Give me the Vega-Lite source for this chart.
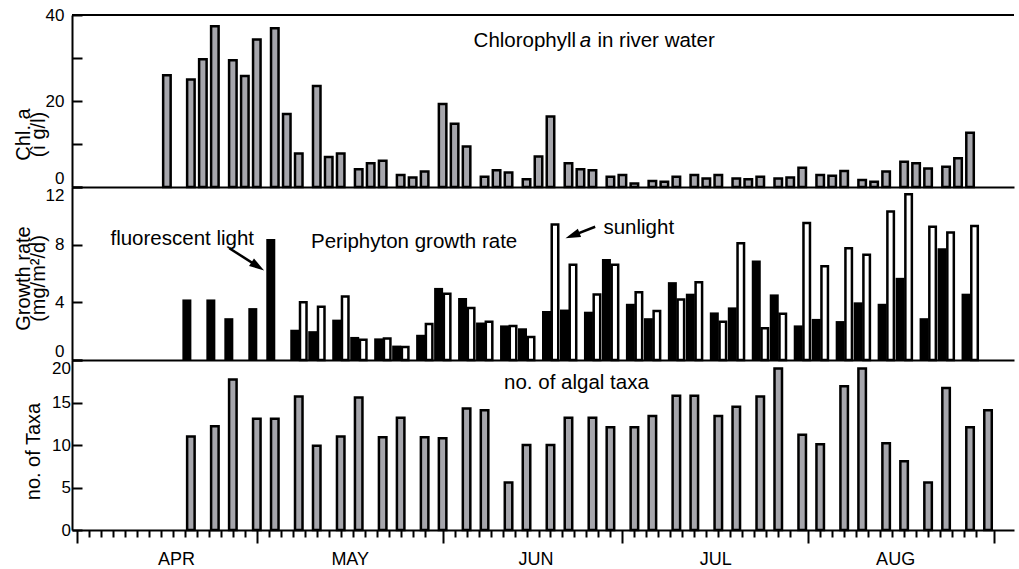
{
  "$schema": "https://vega.github.io/schema/vega-lite/v6.json",
  "padding": {"left": 13, "top": 6, "right": 0, "bottom": 0},
  "spacing": 0,
  "bounds": "flush",
  "config": {
    "view": {"stroke": null},
    "font": "Liberation Sans",
    "axis": {
      "domainColor": "black", "domainWidth": 2,
      "tickColor": "black", "tickWidth": 2,
      "labelColor": "black", "titleColor": "black",
      "labelFont": "Liberation Sans", "titleFont": "Liberation Sans",
      "labelFontSize": 17, "titleFontSize": 20, "titleFontWeight": "normal",
      "grid": false, "labelOverlap": false, "labelBound": false, "labelFlush": false
    },
    "text": {"font": "Liberation Sans", "fontSize": 20.5, "align": "left", "baseline": "alphabetic", "color": "black"}
  },
  "datasets": {
    "chl": [
      {"date": "1998-04-16", "chl": 26.0}, {"date": "1998-04-20", "chl": 25.0}, {"date": "1998-04-22", "chl": 29.7},
      {"date": "1998-04-24", "chl": 37.4}, {"date": "1998-04-27", "chl": 29.5}, {"date": "1998-04-29", "chl": 25.8},
      {"date": "1998-05-01", "chl": 34.3}, {"date": "1998-05-04", "chl": 36.9}, {"date": "1998-05-06", "chl": 17.0},
      {"date": "1998-05-08", "chl": 7.8}, {"date": "1998-05-11", "chl": 23.5}, {"date": "1998-05-13", "chl": 7.0},
      {"date": "1998-05-15", "chl": 7.8}, {"date": "1998-05-18", "chl": 4.1}, {"date": "1998-05-20", "chl": 5.5},
      {"date": "1998-05-22", "chl": 6.1}, {"date": "1998-05-25", "chl": 2.8}, {"date": "1998-05-27", "chl": 2.2},
      {"date": "1998-05-29", "chl": 3.6}, {"date": "1998-06-01", "chl": 19.3}, {"date": "1998-06-03", "chl": 14.7},
      {"date": "1998-06-05", "chl": 9.4}, {"date": "1998-06-08", "chl": 2.4}, {"date": "1998-06-10", "chl": 3.9},
      {"date": "1998-06-12", "chl": 3.4}, {"date": "1998-06-15", "chl": 1.8}, {"date": "1998-06-17", "chl": 7.1},
      {"date": "1998-06-19", "chl": 16.4}, {"date": "1998-06-22", "chl": 5.5}, {"date": "1998-06-24", "chl": 4.1},
      {"date": "1998-06-26", "chl": 3.9}, {"date": "1998-06-29", "chl": 2.4}, {"date": "1998-07-01", "chl": 2.8},
      {"date": "1998-07-03", "chl": 0.8}, {"date": "1998-07-06", "chl": 1.4}, {"date": "1998-07-08", "chl": 1.2},
      {"date": "1998-07-10", "chl": 2.4}, {"date": "1998-07-13", "chl": 2.8}, {"date": "1998-07-15", "chl": 2.0},
      {"date": "1998-07-17", "chl": 2.8}, {"date": "1998-07-20", "chl": 2.0}, {"date": "1998-07-22", "chl": 1.8},
      {"date": "1998-07-24", "chl": 2.4}, {"date": "1998-07-27", "chl": 2.0}, {"date": "1998-07-29", "chl": 2.2},
      {"date": "1998-07-31", "chl": 4.5}, {"date": "1998-08-03", "chl": 2.8}, {"date": "1998-08-05", "chl": 2.6},
      {"date": "1998-08-07", "chl": 3.7}, {"date": "1998-08-10", "chl": 1.6}, {"date": "1998-08-12", "chl": 1.2},
      {"date": "1998-08-14", "chl": 3.6}, {"date": "1998-08-17", "chl": 5.9}, {"date": "1998-08-19", "chl": 5.5},
      {"date": "1998-08-21", "chl": 4.3}, {"date": "1998-08-24", "chl": 4.7}, {"date": "1998-08-26", "chl": 6.7},
      {"date": "1998-08-28", "chl": 12.6}
    ],
    "growth": [
      {"date": "1998-04-20", "light": "fluorescent", "rate": 4.2},
      {"date": "1998-04-24", "light": "fluorescent", "rate": 4.2},
      {"date": "1998-04-27", "light": "fluorescent", "rate": 2.9},
      {"date": "1998-05-01", "light": "fluorescent", "rate": 3.6},
      {"date": "1998-05-04", "light": "fluorescent", "rate": 8.4},
      {"date": "1998-05-08", "light": "fluorescent", "rate": 2.1}, {"date": "1998-05-08", "light": "sunlight", "rate": 4.0},
      {"date": "1998-05-11", "light": "fluorescent", "rate": 2.0}, {"date": "1998-05-11", "light": "sunlight", "rate": 3.7},
      {"date": "1998-05-15", "light": "fluorescent", "rate": 2.8}, {"date": "1998-05-15", "light": "sunlight", "rate": 4.4},
      {"date": "1998-05-18", "light": "fluorescent", "rate": 1.6}, {"date": "1998-05-18", "light": "sunlight", "rate": 1.4},
      {"date": "1998-05-22", "light": "fluorescent", "rate": 1.5}, {"date": "1998-05-22", "light": "sunlight", "rate": 1.5},
      {"date": "1998-05-25", "light": "fluorescent", "rate": 1.0}, {"date": "1998-05-25", "light": "sunlight", "rate": 0.9},
      {"date": "1998-05-29", "light": "fluorescent", "rate": 1.75}, {"date": "1998-05-29", "light": "sunlight", "rate": 2.5},
      {"date": "1998-06-01", "light": "fluorescent", "rate": 5.0}, {"date": "1998-06-01", "light": "sunlight", "rate": 4.6},
      {"date": "1998-06-05", "light": "fluorescent", "rate": 4.3}, {"date": "1998-06-05", "light": "sunlight", "rate": 3.6},
      {"date": "1998-06-08", "light": "fluorescent", "rate": 2.6}, {"date": "1998-06-08", "light": "sunlight", "rate": 2.65},
      {"date": "1998-06-12", "light": "fluorescent", "rate": 2.4}, {"date": "1998-06-12", "light": "sunlight", "rate": 2.35},
      {"date": "1998-06-15", "light": "fluorescent", "rate": 2.2}, {"date": "1998-06-15", "light": "sunlight", "rate": 1.6},
      {"date": "1998-06-19", "light": "fluorescent", "rate": 3.4}, {"date": "1998-06-19", "light": "sunlight", "rate": 9.4},
      {"date": "1998-06-22", "light": "fluorescent", "rate": 3.5}, {"date": "1998-06-22", "light": "sunlight", "rate": 6.6},
      {"date": "1998-06-26", "light": "fluorescent", "rate": 3.35}, {"date": "1998-06-26", "light": "sunlight", "rate": 4.55},
      {"date": "1998-06-29", "light": "fluorescent", "rate": 7.0}, {"date": "1998-06-29", "light": "sunlight", "rate": 6.6},
      {"date": "1998-07-03", "light": "fluorescent", "rate": 3.9}, {"date": "1998-07-03", "light": "sunlight", "rate": 4.7},
      {"date": "1998-07-06", "light": "fluorescent", "rate": 2.9}, {"date": "1998-07-06", "light": "sunlight", "rate": 3.4},
      {"date": "1998-07-10", "light": "fluorescent", "rate": 5.4}, {"date": "1998-07-10", "light": "sunlight", "rate": 4.2},
      {"date": "1998-07-13", "light": "fluorescent", "rate": 4.6}, {"date": "1998-07-13", "light": "sunlight", "rate": 5.4},
      {"date": "1998-07-17", "light": "fluorescent", "rate": 3.3}, {"date": "1998-07-17", "light": "sunlight", "rate": 2.65},
      {"date": "1998-07-20", "light": "fluorescent", "rate": 3.65}, {"date": "1998-07-20", "light": "sunlight", "rate": 8.1},
      {"date": "1998-07-24", "light": "fluorescent", "rate": 6.9}, {"date": "1998-07-24", "light": "sunlight", "rate": 2.2},
      {"date": "1998-07-27", "light": "fluorescent", "rate": 4.55}, {"date": "1998-07-27", "light": "sunlight", "rate": 3.2},
      {"date": "1998-07-31", "light": "fluorescent", "rate": 2.4}, {"date": "1998-07-31", "light": "sunlight", "rate": 9.5},
      {"date": "1998-08-03", "light": "fluorescent", "rate": 2.85}, {"date": "1998-08-03", "light": "sunlight", "rate": 6.5},
      {"date": "1998-08-07", "light": "fluorescent", "rate": 2.7}, {"date": "1998-08-07", "light": "sunlight", "rate": 7.75},
      {"date": "1998-08-10", "light": "fluorescent", "rate": 4.0}, {"date": "1998-08-10", "light": "sunlight", "rate": 7.3},
      {"date": "1998-08-14", "light": "fluorescent", "rate": 3.9}, {"date": "1998-08-14", "light": "sunlight", "rate": 10.3},
      {"date": "1998-08-17", "light": "fluorescent", "rate": 5.7}, {"date": "1998-08-17", "light": "sunlight", "rate": 11.5},
      {"date": "1998-08-21", "light": "fluorescent", "rate": 2.9}, {"date": "1998-08-21", "light": "sunlight", "rate": 9.25},
      {"date": "1998-08-24", "light": "fluorescent", "rate": 7.75}, {"date": "1998-08-24", "light": "sunlight", "rate": 8.85},
      {"date": "1998-08-28", "light": "fluorescent", "rate": 4.6}, {"date": "1998-08-28", "light": "sunlight", "rate": 9.3}
    ],
    "taxa": [
      {"date": "1998-04-20", "taxa": 11.0}, {"date": "1998-04-24", "taxa": 12.2}, {"date": "1998-04-27", "taxa": 17.7},
      {"date": "1998-05-01", "taxa": 13.1}, {"date": "1998-05-04", "taxa": 13.1}, {"date": "1998-05-08", "taxa": 15.7},
      {"date": "1998-05-11", "taxa": 9.9}, {"date": "1998-05-15", "taxa": 11.0}, {"date": "1998-05-18", "taxa": 15.6},
      {"date": "1998-05-22", "taxa": 10.9}, {"date": "1998-05-25", "taxa": 13.2}, {"date": "1998-05-29", "taxa": 10.9},
      {"date": "1998-06-01", "taxa": 10.8}, {"date": "1998-06-05", "taxa": 14.3}, {"date": "1998-06-08", "taxa": 14.1},
      {"date": "1998-06-12", "taxa": 5.6}, {"date": "1998-06-15", "taxa": 10.0}, {"date": "1998-06-19", "taxa": 10.0},
      {"date": "1998-06-22", "taxa": 13.2}, {"date": "1998-06-26", "taxa": 13.2}, {"date": "1998-06-29", "taxa": 12.1},
      {"date": "1998-07-03", "taxa": 12.1}, {"date": "1998-07-06", "taxa": 13.4}, {"date": "1998-07-10", "taxa": 15.8},
      {"date": "1998-07-13", "taxa": 15.8}, {"date": "1998-07-17", "taxa": 13.4}, {"date": "1998-07-20", "taxa": 14.5},
      {"date": "1998-07-24", "taxa": 15.7}, {"date": "1998-07-27", "taxa": 19.0}, {"date": "1998-07-31", "taxa": 11.2},
      {"date": "1998-08-03", "taxa": 10.1}, {"date": "1998-08-07", "taxa": 16.9}, {"date": "1998-08-10", "taxa": 19.0},
      {"date": "1998-08-14", "taxa": 10.2}, {"date": "1998-08-17", "taxa": 8.1}, {"date": "1998-08-21", "taxa": 5.6},
      {"date": "1998-08-24", "taxa": 16.7}, {"date": "1998-08-28", "taxa": 12.1}, {"date": "1998-08-31", "taxa": 14.1}
    ],
    "chlText": [
      {"date": "1998-06-06T04:00:00Z", "value": 32.5, "text": "Chlorophyll"},
      {"date": "1998-06-23T21:00:00Z", "value": 32.5, "text": "a"},
      {"date": "1998-06-26T20:00:00Z", "value": 32.5, "text": "in river water"}
    ],
    "growthText": [
      {"date": "1998-04-06T14:00:00Z", "value": 7.97, "text": "fluorescent light"},
      {"date": "1998-05-10T01:00:00Z", "value": 7.8, "text": "Periphyton growth rate"},
      {"date": "1998-06-27T20:00:00Z", "value": 8.74, "text": "sunlight"}
    ],
    "taxaText": [
      {"date": "1998-06-11T06:00:00Z", "value": 16.55, "text": "no. of algal taxa"}
    ]
  },
  "vconcat": [
    {
      "width": 942,
      "height": 172,
      "layer": [
        {
          "data": {"name": "chl"},
          "mark": {"type": "bar", "width": 7.5, "fill": "#a6a6ac", "stroke": "black", "strokeWidth": 2.5},
          "encoding": {
            "x": {"field": "date", "type": "temporal",
                  "scale": {"type": "utc", "domain": [{"year": 1998, "month": 4, "date": 1, "utc": true}, {"year": 1998, "month": 9, "date": 3, "hours": 12, "utc": true}]},
                  "axis": {"orient": "bottom", "ticks": false, "labels": false, "title": null, "domain": true}},
            "y": {"field": "chl", "type": "quantitative", "scale": {"domain": [0, 40], "nice": false},
                  "axis": {"values": [0, 10, 20, 30, 40], "format": "d", "labelExpr": "datum.value % 20 == 0 ? datum.label : ''",
                           "labelBaseline": {"condition": {"test": "datum.value == 0", "value": "bottom"}, "value": "middle"},
                           "tickSize": -10, "labelPadding": 18,
                           "title": ["Chl. a", "(ì g/l)"], "titleX": -43, "titleY": 119, "titleAngle": 270,
                           "titleAlign": "center", "titleBaseline": "alphabetic", "titleLineHeight": 15}}
          }
        },
        {
          "data": {"values": [{}]},
          "mark": {"type": "rule", "color": "black", "strokeWidth": 2},
          "encoding": {"y": {"datum": 40, "type": "quantitative", "scale": {"domain": [0, 40], "nice": false}}}
        },
        {
          "data": {"name": "chlText"},
          "transform": [{"filter": "datum.text != 'a'"}],
          "mark": {"type": "text"},
          "encoding": {
            "x": {"field": "date", "type": "temporal"},
            "y": {"field": "value", "type": "quantitative"},
            "text": {"field": "text"}
          }
        },
        {
          "data": {"name": "chlText"},
          "transform": [{"filter": "datum.text == 'a'"}],
          "mark": {"type": "text", "fontStyle": "italic"},
          "encoding": {
            "x": {"field": "date", "type": "temporal"},
            "y": {"field": "value", "type": "quantitative"},
            "text": {"field": "text"}
          }
        }
      ]
    },
    {
      "width": 942,
      "height": 173,
      "layer": [
        {
          "data": {"name": "growth"},
          "transform": [{"filter": "datum.light == 'fluorescent'"}],
          "mark": {"type": "bar", "width": 9, "xOffset": -4, "color": "black"},
          "encoding": {
            "x": {"field": "date", "type": "temporal",
                  "scale": {"type": "utc", "domain": [{"year": 1998, "month": 4, "date": 1, "utc": true}, {"year": 1998, "month": 9, "date": 3, "hours": 12, "utc": true}]},
                  "axis": {"orient": "bottom", "ticks": false, "labels": false, "title": null, "domain": true}},
            "y": {"field": "rate", "type": "quantitative", "scale": {"domain": [0, 12], "nice": false},
                  "axis": {"values": [0, 2, 4, 6, 8, 10, 12], "format": "d", "labelExpr": "datum.value % 4 == 0 ? datum.label : ''",
                           "labelBaseline": {"condition": [{"test": "datum.value == 12", "value": "top"}, {"test": "datum.value == 0", "value": "bottom"}], "value": "middle"},
                           "tickSize": -10, "labelPadding": 18,
                           "title": ["Growth rate", "(mg/m²/d)"], "titleX": -43, "titleY": 91, "titleAngle": 270,
                           "titleAlign": "center", "titleBaseline": "alphabetic", "titleLineHeight": 15}}
          }
        },
        {
          "data": {"name": "growth"},
          "transform": [{"filter": "datum.light == 'sunlight'"}],
          "mark": {"type": "bar", "width": 6.5, "xOffset": 4.5, "fill": "white", "stroke": "black", "strokeWidth": 2.5},
          "encoding": {
            "x": {"field": "date", "type": "temporal"},
            "y": {"field": "rate", "type": "quantitative"}
          }
        },
        {
          "data": {"name": "growthText"},
          "mark": {"type": "text"},
          "encoding": {
            "x": {"field": "date", "type": "temporal"},
            "y": {"field": "value", "type": "quantitative"},
            "text": {"field": "text"}
          }
        },
        {
          "data": {
            "values": [
              {"light": "fluorescent", "date": "1998-04-26T10:00:00Z", "value": 7.75, "tipDate": "1998-05-01T04:00:00Z", "tipValue": 6.5},
              {"light": "sunlight", "date": "1998-06-26T11:00:00Z", "value": 9.24, "tipDate": "1998-06-22T16:00:00Z", "tipValue": 8.63}
            ],
            "format": {"parse": {"date": "date", "tipDate": "date"}}
          },
          "layer": [
            {
              "mark": {"type": "rule", "color": "black", "strokeWidth": 2.5},
              "encoding": {
                "x": {"field": "date", "type": "temporal"},
                "x2": {"field": "tipDate"},
                "y": {"field": "value", "type": "quantitative"},
                "y2": {"field": "tipValue"}
              }
            },
            {
              "transform": [{"filter": "datum.light == 'fluorescent'"}],
              "mark": {"type": "point", "shape": "M0,-1L0.6,1L-0.6,1Z", "size": 225, "filled": true, "color": "black", "opacity": 1, "angle": 123},
              "encoding": {
                "x": {"field": "tipDate", "type": "temporal"},
                "y": {"field": "tipValue", "type": "quantitative"}
              }
            },
            {
              "transform": [{"filter": "datum.light == 'sunlight'"}],
              "mark": {"type": "point", "shape": "M0,-1L0.6,1L-0.6,1Z", "size": 225, "filled": true, "color": "black", "opacity": 1, "angle": 249},
              "encoding": {
                "x": {"field": "tipDate", "type": "temporal"},
                "y": {"field": "tipValue", "type": "quantitative"}
              }
            }
          ]
        }
      ]
    },
    {
      "width": 942,
      "height": 170,
      "layer": [
        {
          "data": {"name": "taxa"},
          "mark": {"type": "bar", "width": 7.5, "fill": "#a6a6ac", "stroke": "black", "strokeWidth": 2.5},
          "encoding": {
            "x": {"field": "date", "type": "temporal",
                  "scale": {"type": "utc", "domain": [{"year": 1998, "month": 4, "date": 1, "utc": true}, {"year": 1998, "month": 9, "date": 3, "hours": 12, "utc": true}]},
                  "axis": {
                    "orient": "bottom", "title": null, "domain": true, "tickCount": 500,
                    "values": [
                      {"year": 1998, "month": 4, "date": 1, "utc": true}, {"year": 1998, "month": 4, "date": 3, "utc": true}, {"year": 1998, "month": 4, "date": 5, "utc": true},
                      {"year": 1998, "month": 4, "date": 7, "utc": true}, {"year": 1998, "month": 4, "date": 9, "utc": true}, {"year": 1998, "month": 4, "date": 11, "utc": true},
                      {"year": 1998, "month": 4, "date": 13, "utc": true}, {"year": 1998, "month": 4, "date": 15, "utc": true}, {"year": 1998, "month": 4, "date": 17, "utc": true},
                      {"year": 1998, "month": 4, "date": 17, "hours": 12, "utc": true},
                      {"year": 1998, "month": 4, "date": 19, "utc": true}, {"year": 1998, "month": 4, "date": 21, "utc": true}, {"year": 1998, "month": 4, "date": 23, "utc": true},
                      {"year": 1998, "month": 4, "date": 25, "utc": true}, {"year": 1998, "month": 4, "date": 27, "utc": true}, {"year": 1998, "month": 4, "date": 29, "utc": true},
                      {"year": 1998, "month": 5, "date": 1, "utc": true}, {"year": 1998, "month": 5, "date": 3, "utc": true}, {"year": 1998, "month": 5, "date": 5, "utc": true},
                      {"year": 1998, "month": 5, "date": 7, "utc": true}, {"year": 1998, "month": 5, "date": 9, "utc": true}, {"year": 1998, "month": 5, "date": 11, "utc": true},
                      {"year": 1998, "month": 5, "date": 13, "utc": true}, {"year": 1998, "month": 5, "date": 15, "utc": true},
                      {"year": 1998, "month": 5, "date": 16, "hours": 12, "utc": true},
                      {"year": 1998, "month": 5, "date": 17, "utc": true},
                      {"year": 1998, "month": 5, "date": 19, "utc": true}, {"year": 1998, "month": 5, "date": 21, "utc": true}, {"year": 1998, "month": 5, "date": 23, "utc": true},
                      {"year": 1998, "month": 5, "date": 25, "utc": true}, {"year": 1998, "month": 5, "date": 27, "utc": true}, {"year": 1998, "month": 5, "date": 29, "utc": true},
                      {"year": 1998, "month": 6, "date": 1, "utc": true}, {"year": 1998, "month": 6, "date": 3, "utc": true}, {"year": 1998, "month": 6, "date": 5, "utc": true},
                      {"year": 1998, "month": 6, "date": 7, "utc": true}, {"year": 1998, "month": 6, "date": 9, "utc": true}, {"year": 1998, "month": 6, "date": 11, "utc": true},
                      {"year": 1998, "month": 6, "date": 13, "utc": true}, {"year": 1998, "month": 6, "date": 15, "utc": true},
                      {"year": 1998, "month": 6, "date": 16, "hours": 12, "utc": true},
                      {"year": 1998, "month": 6, "date": 17, "utc": true},
                      {"year": 1998, "month": 6, "date": 19, "utc": true}, {"year": 1998, "month": 6, "date": 21, "utc": true}, {"year": 1998, "month": 6, "date": 23, "utc": true},
                      {"year": 1998, "month": 6, "date": 25, "utc": true}, {"year": 1998, "month": 6, "date": 27, "utc": true}, {"year": 1998, "month": 6, "date": 29, "utc": true},
                      {"year": 1998, "month": 7, "date": 1, "utc": true}, {"year": 1998, "month": 7, "date": 3, "utc": true}, {"year": 1998, "month": 7, "date": 5, "utc": true},
                      {"year": 1998, "month": 7, "date": 7, "utc": true}, {"year": 1998, "month": 7, "date": 9, "utc": true}, {"year": 1998, "month": 7, "date": 11, "utc": true},
                      {"year": 1998, "month": 7, "date": 13, "utc": true}, {"year": 1998, "month": 7, "date": 15, "utc": true},
                      {"year": 1998, "month": 7, "date": 16, "hours": 12, "utc": true},
                      {"year": 1998, "month": 7, "date": 17, "utc": true},
                      {"year": 1998, "month": 7, "date": 19, "utc": true}, {"year": 1998, "month": 7, "date": 21, "utc": true}, {"year": 1998, "month": 7, "date": 23, "utc": true},
                      {"year": 1998, "month": 7, "date": 25, "utc": true}, {"year": 1998, "month": 7, "date": 27, "utc": true}, {"year": 1998, "month": 7, "date": 29, "utc": true},
                      {"year": 1998, "month": 8, "date": 1, "utc": true}, {"year": 1998, "month": 8, "date": 3, "utc": true}, {"year": 1998, "month": 8, "date": 5, "utc": true},
                      {"year": 1998, "month": 8, "date": 7, "utc": true}, {"year": 1998, "month": 8, "date": 9, "utc": true}, {"year": 1998, "month": 8, "date": 11, "utc": true},
                      {"year": 1998, "month": 8, "date": 13, "utc": true}, {"year": 1998, "month": 8, "date": 15, "utc": true},
                      {"year": 1998, "month": 8, "date": 15, "hours": 12, "utc": true},
                      {"year": 1998, "month": 8, "date": 17, "utc": true},
                      {"year": 1998, "month": 8, "date": 19, "utc": true}, {"year": 1998, "month": 8, "date": 21, "utc": true}, {"year": 1998, "month": 8, "date": 23, "utc": true},
                      {"year": 1998, "month": 8, "date": 25, "utc": true}, {"year": 1998, "month": 8, "date": 27, "utc": true}, {"year": 1998, "month": 8, "date": 29, "utc": true},
                      {"year": 1998, "month": 9, "date": 1, "utc": true}
                    ],
                    "tickSize": {"condition": {"test": "utcdate(datum.value) == 1 && utchours(datum.value) == 0", "value": 13}, "value": 7},
                    "tickOpacity": {"condition": {"test": "utchours(datum.value) == 12", "value": 0}, "value": 1},
                    "labelExpr": "utchours(datum.value) == 12 ? upper(utcFormat(datum.value, '%b')) : ''",
                    "labelFontSize": 18, "labelPadding": 13, "labelAlign": "center", "labelBaseline": "top"
                  }},
            "y": {"field": "taxa", "type": "quantitative", "scale": {"domain": [0, 20], "nice": false},
                  "axis": {"values": [0, 5, 10, 15, 20], "format": "d",
                           "labelBaseline": {"condition": {"test": "datum.value == 20", "value": "top"}, "value": "middle"},
                           "tickSize": -10, "labelPadding": 11.5,
                           "title": "no. of Taxa", "titleX": -33, "titleY": 91, "titleAngle": 270,
                           "titleAlign": "center", "titleBaseline": "alphabetic"}}
          }
        },
        {
          "data": {"name": "taxaText"},
          "mark": {"type": "text"},
          "encoding": {
            "x": {"field": "date", "type": "temporal"},
            "y": {"field": "value", "type": "quantitative"},
            "text": {"field": "text"}
          }
        }
      ]
    }
  ]
}
